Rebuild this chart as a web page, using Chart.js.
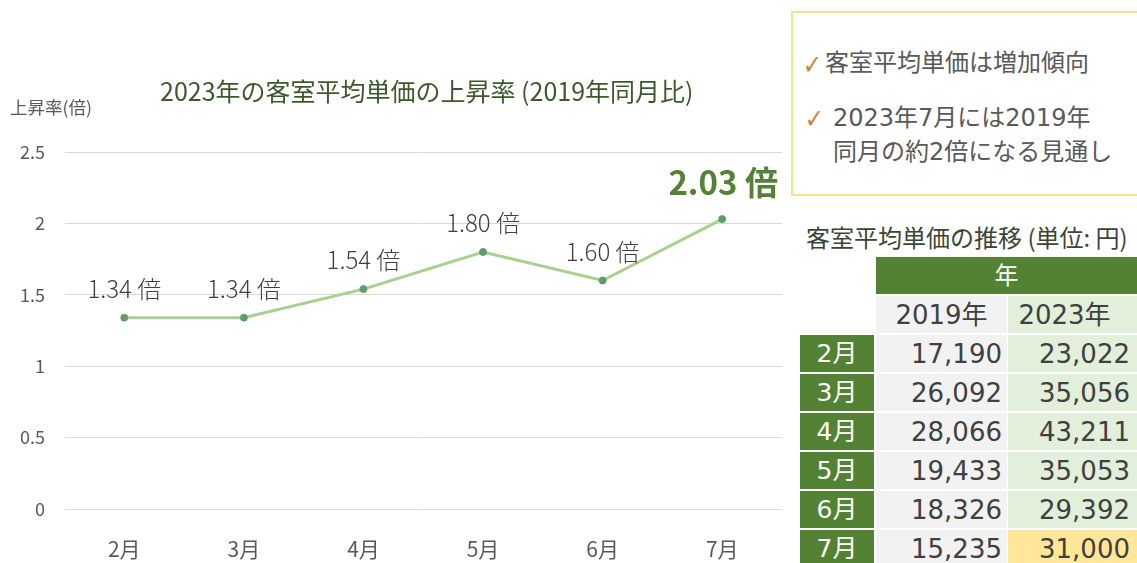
<!DOCTYPE html>
<html>
<head>
<meta charset="utf-8">
<script src="https://cdn.jsdelivr.net/npm/chart.js@4.4.0/dist/chart.umd.min.js"></script>
<style>
  html, body { margin:0; padding:0; background:#fff; }
  body { width:1137px; height:563px; position:relative; overflow:hidden; font-family:"Noto Sans CJK JP", sans-serif; }
  #wrap { position:absolute; left:0; top:0; width:787px; height:563px; }
  .abs { position:absolute; white-space:nowrap; }
  #title { left:160px; top:75px; font-size:25px; line-height:30px; color:#3b5a28; }
  #ylab { left:10px; top:96px; font-size:17.5px; line-height:22px; color:#595959; }
  #box { left:791px; top:11px; width:360px; height:185px; border:2px solid #f3e28c; box-sizing:border-box; background:#fff; }
  .chk { position:absolute; color:#c8893a; font-family:"DejaVu Sans", sans-serif; font-size:27px; line-height:30px; transform:scaleX(0.85); }
  .boxline { font-family:"DejaVu Sans","Noto Sans CJK JP", sans-serif; font-size:24px; line-height:30px; color:#595959; }
  #ttitle { left:806px; top:222px; font-size:24px; line-height:30px; color:#3a4634; }
  .cell { position:absolute; display:flex; align-items:center; box-sizing:border-box; font-family:"DejaVu Sans","Noto Sans CJK JP", sans-serif; font-size:26px; line-height:1; color:#404040; white-space:nowrap; }
</style>
</head>
<body>
<div id="wrap"><canvas id="c" width="787" height="563"></canvas></div>
<div class="abs" id="title">2023年の客室平均単価の上昇率 (2019年同月比)</div>
<div class="abs" id="ylab">上昇率(倍)</div>
<div class="abs" id="box">
  <span class="chk" style="left:8px;top:37px;">✓</span>
  <div class="abs boxline" style="left:32px;top:35px;">客室平均単価は増加傾向</div>
  <span class="chk" style="left:10px;top:91px;">✓</span>
  <div class="abs boxline" style="left:40px;top:90px;">2023年7月には2019年</div>
  <div class="abs boxline" style="left:40px;top:124px;">同月の約2倍になる見通し</div>
</div>
<div class="abs" id="ttitle">客室平均単価の推移 (単位: 円)</div>
<div id="table"></div>
<script>
// ---- data ----
const months = ['2月','3月','4月','5月','6月','7月'];
const ratio = [1.34, 1.34, 1.54, 1.80, 1.60, 2.03];
const yearHeads = ['2019年','2023年'];
const price2019 = [17190, 26092, 28066, 19433, 18326, 15235];
const price2023 = [23022, 35056, 43211, 35053, 29392, 31000];
const tableHeader = '年';
const labelUnit = ' 倍';

// ---- table ----
const tbl = document.getElementById('table');
function cell(x, y, w, h, bg, txt, style) {
  const d = document.createElement('div');
  d.className = 'cell';
  d.style.left = x + 'px'; d.style.top = y + 'px';
  d.style.width = w + 'px'; d.style.height = h + 'px';
  d.style.background = bg;
  Object.assign(d.style, style || {});
  d.textContent = txt;
  tbl.appendChild(d);
}
const rowH = 37, pitch = 39, top0 = 257;
cell(876, top0, 261, rowH, '#548235', tableHeader, {justifyContent:'center', color:'#fff', fontSize:'24px'});
cell(876, top0 + pitch, 131, rowH, '#f2f2f2', yearHeads[0], {justifyContent:'center'});
cell(1008, top0 + pitch, 129, rowH, '#e2efda', yearHeads[1], {justifyContent:'center', paddingRight:'16px'});
const fmt = v => v.toLocaleString('en-US');
months.forEach((m, i) => {
  const y = top0 + pitch * (i + 2);
  cell(800, y, 74, rowH, '#548235', m, {justifyContent:'center', color:'#fff', fontSize:'25px'});
  cell(876, y, 131, rowH, '#f2f2f2', fmt(price2019[i]), {justifyContent:'flex-end', paddingRight:'5px'});
  const last = i === months.length - 1;
  cell(1008, y, 129, rowH, last ? '#ffe699' : '#e2efda', fmt(price2023[i]), {justifyContent:'flex-end', paddingRight:'7px'});
});

// ---- chart ----
const labelPlugin = {
  id: 'ptLabels',
  afterDatasetsDraw(chart) {
    const ctx = chart.ctx;
    const meta = chart.getDatasetMeta(0);
    ctx.save();
    ctx.textAlign = 'center';
    ctx.textBaseline = 'middle';
    meta.data.forEach((pt, i) => {
      const last = i === ratio.length - 1;
      if (last) {
        ctx.font = 'bold 33px "Noto Sans CJK JP", sans-serif';
        ctx.fillStyle = '#538135';
        ctx.fillText(ratio[i].toFixed(2) + labelUnit, pt.x + 1, pt.y - 37);
      } else {
        ctx.font = '300 24px "Noto Sans CJK JP", sans-serif';
        ctx.fillStyle = '#404040';
        ctx.fillText(ratio[i].toFixed(2) + labelUnit, pt.x, pt.y - 29);
      }
    });
    ctx.restore();
  }
};

new Chart(document.getElementById('c'), {
  type: 'line',
  data: {
    labels: months,
    datasets: [{
      data: ratio,
      borderColor: '#a9d18e',
      borderWidth: 3,
      pointRadius: 3.5,
      pointBackgroundColor: '#5f9e6c',
      pointBorderColor: '#5f9e6c',
      pointBorderWidth: 1,
      tension: 0,
      fill: false
    }]
  },
  options: {
    responsive: false,
    animation: false,
    layout: { padding: { top: 152, left: 0, right: 0, bottom: 0 } },
    plugins: { legend: { display: false }, tooltip: { enabled: false }, title: { display: false } },
    scales: {
      x: {
        offset: true,
        grid: { display: false, drawTicks: false },
        border: { display: false },
        ticks: { color: '#595959', font: { family: '"Noto Sans CJK JP", sans-serif', size: 21 }, padding: 27 },
        afterFit(s) { s.height = 54; }
      },
      y: {
        min: 0, max: 2.5,
        ticks: { stepSize: 0.5, color: '#595959', font: { family: '"Noto Sans CJK JP", sans-serif', size: 18 }, padding: 19.5,
                 callback: v => String(v) },
        grid: { color: '#d9d9d9', lineWidth: 1, drawTicks: false },
        border: { display: false },
        afterFit(s) { s.width = 64.5; }
      }
    }
  },
  plugins: [labelPlugin]
});
</script>
</body>
</html>
